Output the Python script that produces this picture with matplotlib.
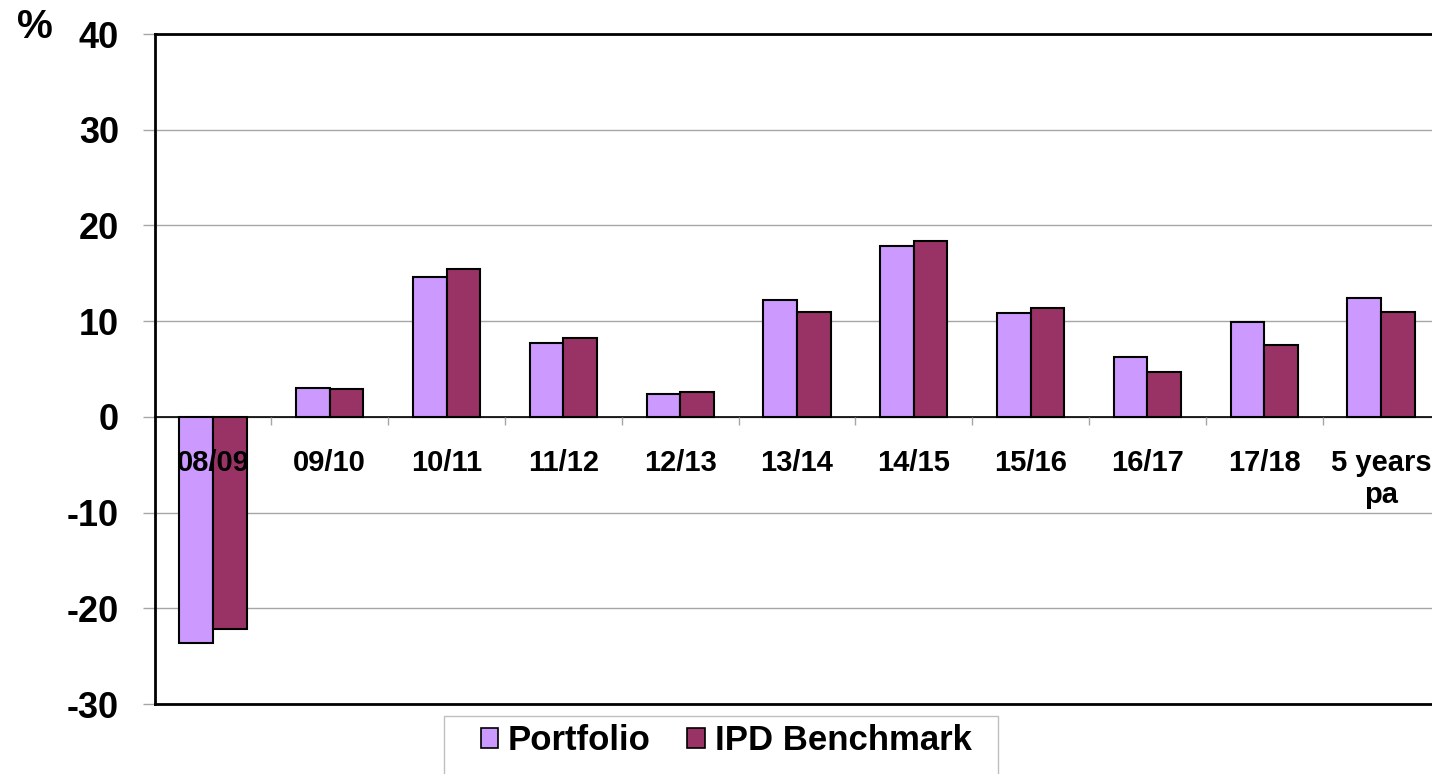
import numpy as np
import matplotlib
matplotlib.use("Agg")
import matplotlib.pyplot as plt
from matplotlib.patches import Patch, Rectangle
from matplotlib.ticker import FixedLocator, MultipleLocator

# Datos (rentabilidad anual, %)
periodos = ["08/09", "09/10", "10/11", "11/12", "12/13", "13/14",
            "14/15", "15/16", "16/17", "17/18", "5 years\npa"]
portfolio = [-23.6, 3.0, 14.6, 7.7, 2.4, 12.2, 17.9, 10.8, 6.3, 9.9, 12.4]
ipd_benchmark = [-22.2, 2.9, 15.4, 8.2, 2.6, 11.0, 18.4, 11.4, 4.7, 7.5, 11.0]

COLOR_PORT = "#CC99FF"
COLOR_IPD = "#993366"
GRIS = "#A6A6A6"

plt.rcParams["font.family"] = ["Liberation Sans", "DejaVu Sans"]
plt.rcParams["font.weight"] = "bold"
plt.rcParams["axes.unicode_minus"] = False

W, H = 1432, 774
fig = plt.figure(figsize=(W / 100, H / 100), dpi=100)
ax = fig.add_axes([154.6 / W, 1 - 704 / H, (1439.4 - 154.6) / W, (704 - 34) / H])

x = np.arange(len(periodos))
ancho = 0.287
ax.bar(x - ancho / 2, portfolio, ancho, color=COLOR_PORT, edgecolor="black",
       linewidth=1.5, label="Portfolio", zorder=3)
ax.bar(x + ancho / 2, ipd_benchmark, ancho, color=COLOR_IPD, edgecolor="black",
       linewidth=1.5, label="IPD Benchmark", zorder=3)

ax.set_xlim(-0.5, len(periodos) - 0.5)
ax.set_ylim(-30, 40)

# Eje Y
ax.yaxis.set_major_locator(MultipleLocator(10))
ax.tick_params(axis="y", direction="out", length=8.5, width=1, color=GRIS,
               pad=17, labelsize=26)
ax.yaxis.grid(True, color=GRIS, linewidth=1)
ax.yaxis.set_zorder(0.5)

# Eje X en la linea del cero, por encima de las barras
ax.spines["bottom"].set_position(("data", 0))
ax.spines["bottom"].set_linewidth(1.2)
ax.spines["bottom"].set_zorder(4)
ax.set_xticks(x)
ax.set_xticklabels(periodos, fontsize=21, fontweight="bold")
ax.xaxis.set_minor_locator(FixedLocator(x[:-1] + 0.5))
ax.tick_params(axis="x", which="major", length=0, pad=23)
ax.tick_params(axis="x", which="minor", direction="out", length=6, width=1,
               color=GRIS)
ax.xaxis.set_zorder(5)

# Marco del area de trazado
ax.axhline(-30, color="black", linewidth=2, clip_on=False, zorder=4)
ax.spines["top"].set_linewidth(2)
ax.spines["left"].set_linewidth(2)
ax.spines["right"].set_visible(False)

fig.text(35 / W, 1 - 27 / H, "%", fontsize=29, fontweight="bold",
         ha="center", va="center")

# Leyenda con marco propio
fig.patches.append(Rectangle((444 / W, 1 - 782 / H), (998 - 444) / W, 66 / H,
                             transform=fig.transFigure, facecolor="white",
                             edgecolor="#BFBFBF", linewidth=1))
handles = [Patch(facecolor=COLOR_PORT, edgecolor="black", linewidth=1.2),
           Patch(facecolor=COLOR_IPD, edgecolor="black", linewidth=1.2)]
fig.legend(handles, ["Portfolio", "IPD Benchmark"], loc="upper left",
           bbox_to_anchor=(481 / W, 1 - 724 / H), ncol=2, frameon=False,
           prop={"size": 25, "weight": "bold"}, borderpad=0, borderaxespad=0,
           handlelength=0.5, handleheight=0.5, handletextpad=0.28,
           columnspacing=1.05)

fig.savefig("out.png", dpi=100)
